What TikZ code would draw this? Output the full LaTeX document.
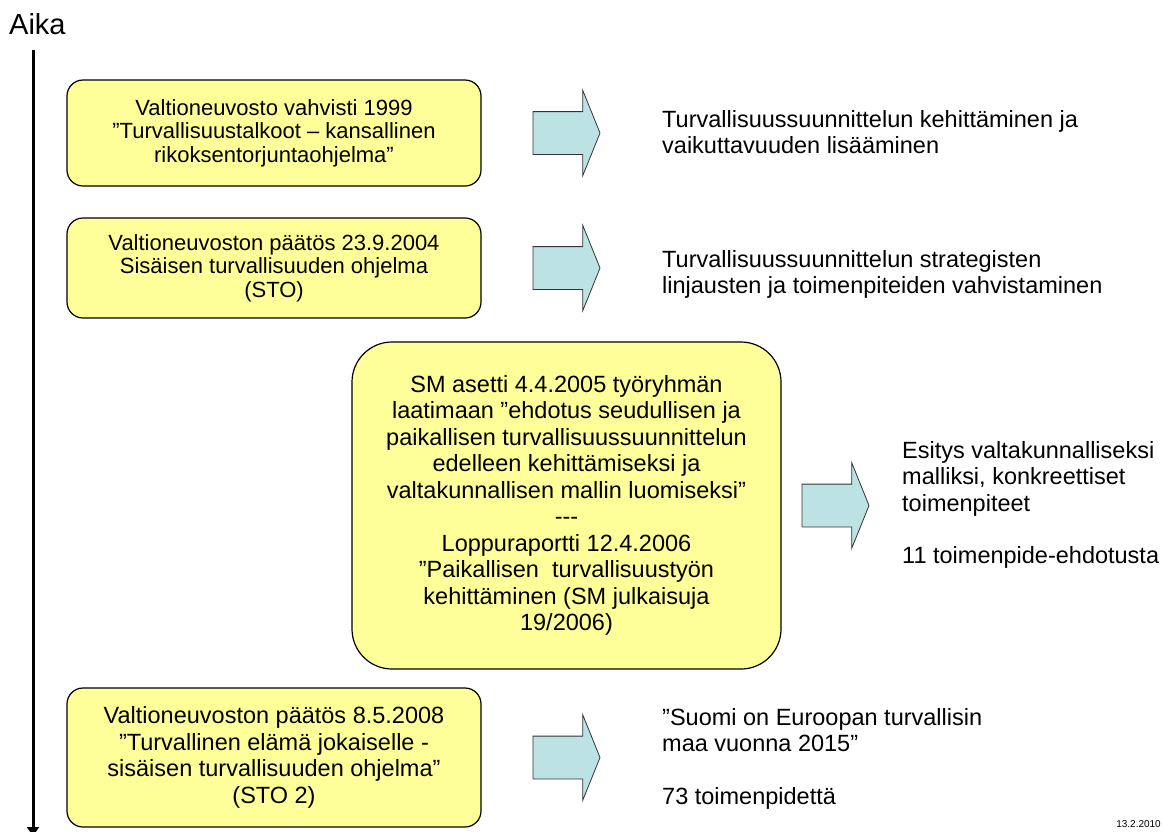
\documentclass[tikz,border=0pt]{standalone}
\usepackage{fontspec}
\setmainfont{Liberation Sans}
\usetikzlibrary{positioning, arrows.meta, shapes.arrows}
\definecolor{boxyellow}{HTML}{FFFF99}
\definecolor{arrowcyan}{HTML}{BCE2E3}

\begin{document}
\begin{tikzpicture}[x=1pt, y=-1pt,
    every node/.style = {inner sep=0pt, font=\fontsize{23.5}{26.5}\selectfont},
    event/.style      = {draw=black, line width=1.2pt, fill=boxyellow, rounded corners=16pt,
                         align=center, minimum width=414pt},
    smallevent/.style = {event, font=\fontsize{22}{23.5}\selectfont},
    bigevent/.style   = {event, rounded corners=40pt, minimum width=429pt},
    result/.style     = {anchor=north west, align=left},
    blockarrow/.style = {single arrow, draw=black!80, line width=0.8pt, fill=arrowcyan,
                         inner xsep=0pt, inner ysep=21pt, minimum height=67pt,
                         single arrow head extend=21.5pt, single arrow tip angle=136},
    >={Triangle[length=9pt, width=12pt]}
]
\useasboundingbox (0,0) rectangle (1163,831);

% time axis
\node[anchor=west, font=\fontsize{29}{32}\selectfont] (aika) at (9, 24.5) {Aika};
\coordinate (ttop) at (33, 50);
\coordinate (tend) at (33, 836);
\draw[line width=3pt, ->] (ttop) -- (tend);

% events, top to bottom
\node[smallevent, minimum height=106pt] (vn1999) at (274, 133)
    {Valtioneuvosto vahvisti 1999\\ ”Turvallisuustalkoot – kansallinen\\ rikoksentorjuntaohjelma”};
\node[smallevent, minimum height=100pt] (sto) at (274, 268)
    {Valtioneuvoston päätös 23.9.2004\\ Sisäisen turvallisuuden ohjelma\\ (STO)};
\node[bigevent, minimum height=327pt] (sm2005) at (566.5, 505.5)
    {SM asetti 4.4.2005 työryhmän\\ laatimaan ”ehdotus seudullisen ja\\
     paikallisen turvallisuussuunnittelun\\ edelleen kehittämiseksi ja\\
     valtakunnallisen mallin luomiseksi”\\ {-}{-}{-}\\ Loppuraportti 12.4.2006\\
     ”Paikallisen\ \ turvallisuustyön\\ kehittäminen (SM julkaisuja\\ 19/2006)};
\node[event, minimum height=139pt] (sto2) at (274, 757.5)
    {Valtioneuvoston päätös 8.5.2008\\ ”Turvallinen elämä jokaiselle -\\
     sisäisen turvallisuuden ohjelma”\\ (STO 2)};

% block arrows
\node[blockarrow, right=51pt of vn1999] (a1) {};
\node[blockarrow, right=51pt of sto] (a2) {};
\node[blockarrow, right=20pt of sm2005] (a3) {};
\node[blockarrow, right=51pt of sto2] (a4) {};

% outcomes
\node[result] (r1) at (662, 110)
    {Turvallisuussuunnittelun kehittäminen ja\\ vaikuttavuuden lisääminen};
\node[result] (r2) at (662, 250)
    {Turvallisuussuunnittelun strategisten\\ linjausten ja toimenpiteiden vahvistaminen};
\node[result] (r3) at (902, 441)
    {Esitys valtakunnalliseksi\\ malliksi, konkreettiset\\ toimenpiteet\\[26pt] 11 toimenpide-ehdotusta};
\node[result] (r4) at (662, 708)
    {”Suomi on Euroopan turvallisin\\ maa vuonna 2015”\\[26pt] 73 toimenpidettä};

% date
\node[anchor=south east, font=\fontsize{10}{12}\selectfont] (date) at (1161, 828) {13.2.2010};

\end{tikzpicture}
\end{document}
